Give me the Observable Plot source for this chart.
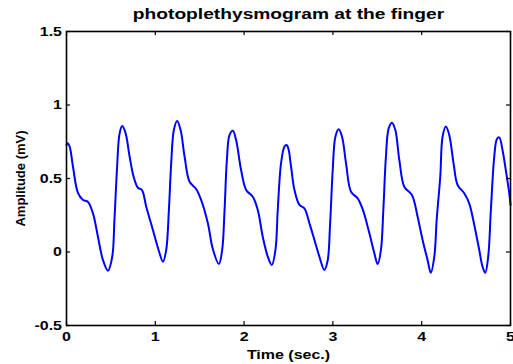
<!DOCTYPE html>
<html><head><meta charset="utf-8">
<script src="https://cdn.jsdelivr.net/npm/d3@7"></script>
<script src="https://cdn.jsdelivr.net/npm/@observablehq/plot@0.6"></script>
<style>html,body{margin:0;padding:0;background:#fff}</style>
</head><body><div id="chart"></div>
<script>
const time = [0.00,0.013,0.036,0.073,0.13,0.186,0.24,0.298,0.354,0.41,0.467,0.515,0.54,0.568,0.598,0.628,0.666,0.711,0.756,0.804,
0.849,0.898,0.973,1.037,1.086,1.123,1.153,1.179,1.209,1.246,1.285,1.33,1.386,1.46,1.516,1.592,1.648,
1.716,1.753,1.78,1.806,1.836,1.873,1.91,1.966,2.023,2.098,2.154,2.21,2.267,2.312,2.353,2.379,2.416,2.454,2.48,2.50,
2.529,2.567,2.623,2.679,2.736,2.792,2.848,2.904,2.942,2.967,2.998,3.028,3.065,3.103,3.148,3.204,3.279,3.336,
3.411,3.467,3.504,3.541,3.568,3.597,3.628,3.665,3.703,3.748,3.804,3.89,3.954,4.01,4.066,4.103,4.142,4.17,
4.209,4.235,4.272,4.31,4.359,4.404,4.479,4.535,4.592,4.648,4.685,4.716,4.749,4.779,4.817,4.846,4.873,4.91,4.947,4.986,5.0];
const amplitude = [0.73,0.74,0.716,0.58,0.40,0.354,0.342,0.263,0.104,-0.054,-0.127,-0.032,0.218,0.558,0.807,0.857,0.807,0.648,0.512,0.437,
0.422,0.308,0.15,0.014,-0.066,0.014,0.286,0.603,0.83,0.891,0.83,0.648,0.478,0.429,0.354,0.195,0.02,
-0.082,0.014,0.286,0.626,0.796,0.825,0.762,0.558,0.422,0.376,0.286,0.104,-0.032,-0.088,0.014,0.286,0.603,0.716,0.728,0.70,
0.58,0.422,0.32,0.297,0.195,0.082,-0.032,-0.122,-0.054,0.172,0.558,0.784,0.835,0.784,0.603,0.41,0.365,0.29,
0.127,-0.009,-0.082,0.014,0.286,0.648,0.841,0.88,0.83,0.626,0.444,0.388,0.24,0.082,-0.054,-0.141,-0.032,0.23,
0.512,0.784,0.853,0.796,0.603,0.456,0.40,0.331,0.184,0.014,-0.1,-0.141,-0.032,0.286,0.648,0.767,0.78,0.694,0.558,0.40,0.32];
const xTicks = [0, 1, 2, 3, 4, 5];
const yTicks = [-0.5, 0, 0.5, 1, 1.5];
const titleText = "photoplethysmogram at the finger";
const xLabel = "Time (sec.)";
const yLabel = "Amplitude (mV)";

const data = time.map((t, i) => ({t, v: amplitude[i]}));
const fmt = d => String(d);
const tickOpts = {fontSize: 12.5, fontWeight: "bold", tickFormat: fmt, label: null};

const W = 513, H = 364, ML = 66, MR = 3, MT = 31, MB = 39, TL = 4;
const fw = W - ML - MR, fh = H - MT - MB;

const chart = Plot.plot({
  width: W, height: H,
  marginLeft: ML, marginRight: MR, marginTop: MT, marginBottom: MB,
  style: {fontFamily: "'Liberation Sans', Arial, sans-serif", background: "#fff", color: "#000", overflow: "visible"},
  x: {domain: [0, 5], axis: null},
  y: {domain: [-0.5, 1.5], axis: null},
  marks: [
    Plot.line(data, {x: "t", y: "v", stroke: "#0000ff", strokeWidth: 2, curve: "catmull-rom"}),
    // inward tick marks on all four sides (MATLAB box style)
    Plot.ruleX(xTicks, {x: d => d, insetTop: fh - TL, stroke: "#000", strokeWidth: 1.2}),
    Plot.ruleX(xTicks, {x: d => d, insetBottom: fh - TL, stroke: "#000", strokeWidth: 1.2}),
    Plot.ruleY(yTicks, {y: d => d, insetRight: fw - TL, stroke: "#000", strokeWidth: 1.2}),
    Plot.ruleY(yTicks, {y: d => d, insetLeft: fw - TL, stroke: "#000", strokeWidth: 1.2}),
    Plot.frame({stroke: "#000", strokeWidth: 1.6}),
    Plot.axisX(xTicks, {anchor: "bottom", tickSize: 0, tickPadding: 7, ...tickOpts}),
    Plot.axisY(yTicks, {anchor: "left", tickSize: 0, tickPadding: 4.5, ...tickOpts}),
    Plot.text([titleText], {frameAnchor: "top", dy: -17, fontSize: 15, fontWeight: "bold", textAnchor: "middle", lineAnchor: "middle"}),
    Plot.text([xLabel], {frameAnchor: "bottom", dy: 29, fontSize: 12.5, fontWeight: "bold", textAnchor: "middle", lineAnchor: "middle"}),
    Plot.text([yLabel], {frameAnchor: "left", dx: -46, rotate: -90, fontSize: 13, fontWeight: "bold", textAnchor: "middle", lineAnchor: "middle"})
  ]
});
document.getElementById("chart").appendChild(chart);

// The reference figure is stretched horizontally; widen horizontal texts to match
const svg = chart.tagName.toLowerCase() === "svg" ? chart : chart.querySelector("svg");
svg.querySelectorAll("text").forEach(t => {
  const tr = t.getAttribute("transform") || "";
  if (/rotate/.test(tr)) return;
  const ax = parseFloat(t.getAttribute("x") || 0);
  t.setAttribute("transform", `${tr} translate(${ax},0) scale(1.28,1) translate(${-ax},0)`);
});
</script>
</body></html>
